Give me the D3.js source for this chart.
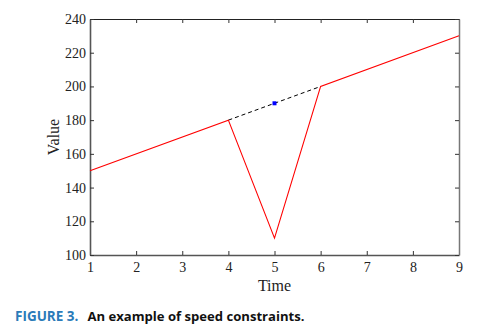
<!DOCTYPE html>
<html><head><meta charset="utf-8">
<script src="https://cdn.jsdelivr.net/npm/d3@7"></script>
<style>body{margin:0;background:#fff}svg{display:block}</style>
</head><body>
<script>
const times = [1, 4, 5, 6, 9];
const values = [150, 180, 110, 200, 230];
const dashedTimes = [4, 6];
const dashedValues = [180, 200];
const markerTime = [5];
const markerValue = [190];
const xTicks = [1,2,3,4,5,6,7,8,9];
const yTicks = [100,120,140,160,180,200,220,240];

const W = 502, H = 335;
const m = {l: 90, r: 43, t: 19, b: 80};
const svg = d3.select("body").append("svg").attr("width", W).attr("height", H);
const x = d3.scaleLinear().domain([1, 9]).range([m.l, W - m.r]);
const y = d3.scaleLinear().domain([100, 240]).range([H - m.b, m.t]);
const font = "'Liberation Serif', 'Times New Roman', serif";

const xAx = svg.append("g").attr("transform", `translate(0,${y(100)})`)
  .call(d3.axisBottom(x).tickValues(xTicks).tickFormat(d3.format("d")).tickSizeInner(-4).tickSizeOuter(0).tickPadding(7));
const xAxTop = svg.append("g").attr("transform", `translate(0,${y(240)})`)
  .call(d3.axisTop(x).tickValues(xTicks).tickFormat("").tickSizeInner(-4).tickSizeOuter(0));
const yAx = svg.append("g").attr("transform", `translate(${x(1)},0)`)
  .call(d3.axisLeft(y).tickValues(yTicks).tickFormat(d3.format("d")).tickSizeInner(-4).tickSizeOuter(0).tickPadding(4));
const yAxR = svg.append("g").attr("transform", `translate(${x(9)},0)`)
  .call(d3.axisRight(y).tickValues(yTicks).tickFormat("").tickSizeInner(-4).tickSizeOuter(0));

[xAx, yAx].forEach(a => {
  a.attr("font-family", font).attr("font-size", 14);
  a.select(".domain").attr("stroke", "#555").attr("stroke-width", 1.6);
  a.selectAll(".tick line").attr("stroke", "#333");
  a.selectAll(".tick text").style("font-family", font).style("font-size", "14px").attr("fill", "#222");
});
xAxTop.select(".domain").attr("stroke", "#222").attr("stroke-width", 1.2);
xAxTop.selectAll(".tick line").attr("stroke", "#333");
yAxR.select(".domain").attr("stroke", "#777").attr("stroke-width", 1.5);
yAxR.selectAll(".tick line").attr("stroke", "#333");

// data lines
const pts = times.map((t, i) => [t, values[i]]);
const line = d3.line().x(d => x(d[0])).y(d => y(d[1]));
svg.append("path").datum(dashedTimes.map((t, i) => [t, dashedValues[i]]))
  .attr("d", line).attr("fill", "none").attr("stroke", "#000").attr("stroke-width", 1).attr("stroke-dasharray", "4,3");
svg.append("path").datum(pts).attr("d", line).attr("fill", "none").attr("stroke", "#ff0000").attr("stroke-width", 1.1);
svg.selectAll(".mk").data(markerTime.map((t, i) => [t, markerValue[i]])).enter().append("rect")
  .attr("x", d => x(d[0]) - 2).attr("y", d => y(d[1]) - 2).attr("width", 4).attr("height", 4).attr("fill", "#0000ff");

// axis titles
svg.append("text").attr("x", (x(1) + x(9)) / 2).attr("y", 291).attr("text-anchor", "middle")
  .attr("font-family", font).attr("font-size", 16).attr("fill", "#222").text("Time");
svg.append("text").attr("transform", `translate(59,${(y(100) + y(240)) / 2}) rotate(-90)`).attr("text-anchor", "middle")
  .attr("font-family", font).attr("font-size", 16).attr("fill", "#222").text("Value");

// caption
const cap = svg.append("text").attr("x", 15).attr("y", 321).attr("font-family", "'Open Sans', sans-serif")
  .attr("font-weight", "bold").attr("font-size", 13.5);
cap.append("tspan").attr("fill", "#2b7bb9").text("FIGURE 3.");
cap.append("tspan").attr("fill", "#111").attr("dx", 9).attr("font-size", 13.1).text("An example of speed constraints.");
</script>
</body></html>
